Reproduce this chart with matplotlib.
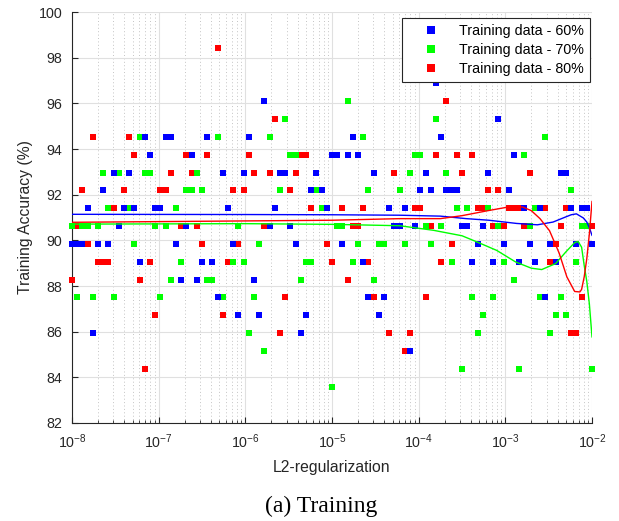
import numpy as np
import matplotlib.pyplot as plt
from matplotlib.ticker import NullFormatter, FixedLocator

plt.rcParams['font.family'] = 'Liberation Sans'
plt.rcParams['mathtext.fontset'] = 'custom'
plt.rcParams['mathtext.rm'] = 'Liberation Sans'
plt.rcParams['mathtext.it'] = 'Liberation Sans:italic'
plt.rcParams['mathtext.bf'] = 'Liberation Sans:bold'

# L2 sweep: 101 log-spaced values between 1e-8 and 1e-2
l2_values = np.logspace(-8, -2, 101)

acc_60 = [89.84, 89.84, 89.84, 91.41, 85.94, 89.84, 92.19, 89.84, 92.97, 90.63,
          91.41, 92.97, 91.41, 89.06, 94.53, 93.75, 91.41, 91.41, 94.53, 94.53,
          89.84, 88.28, 90.63, 93.75, 88.28, 89.06, 94.53, 89.06, 87.50, 92.97,
          91.41, 89.84, 86.72, 92.97, 94.53, 88.28, 86.72, 96.09, 90.63, 91.41,
          92.97, 92.97, 90.63, 89.84, 85.94, 86.72, 92.19, 92.97, 92.19, 91.41,
          93.75, 93.75, 89.84, 93.75, 94.53, 93.75, 89.06, 87.50, 92.97, 86.72,
          87.50, 91.41, 90.63, 90.63, 91.41, 85.16, 90.63, 92.19, 92.97, 92.19,
          96.88, 94.53, 92.19, 92.19, 92.19, 90.63, 90.63, 89.06, 89.84, 90.63,
          92.97, 89.06, 95.31, 89.84, 92.19, 93.75, 89.06, 91.41, 89.84, 89.06,
          91.41, 87.50, 89.84, 89.06, 92.97, 92.97, 91.41, 89.84, 91.41, 91.41,
          89.84]

acc_70 = [90.63, 87.50, 90.63, 90.63, 87.50, 90.63, 92.97, 91.41, 87.50, 92.97,
          91.41, 91.41, 89.84, 94.53, 92.97, 92.97, 90.63, 87.50, 90.63, 88.28,
          91.41, 89.06, 92.19, 92.19, 92.97, 92.19, 88.28, 88.28, 94.53, 87.50,
          91.41, 89.06, 90.63, 89.06, 85.94, 87.50, 89.84, 85.16, 94.53, 91.41,
          92.19, 95.31, 93.75, 93.75, 88.28, 89.06, 89.06, 92.19, 91.41, 91.41,
          83.59, 90.63, 90.63, 96.09, 89.06, 89.84, 94.53, 92.19, 88.28, 89.84,
          89.84, 91.41, 90.63, 92.19, 89.84, 92.97, 93.75, 93.75, 90.63, 89.84,
          95.31, 90.63, 92.97, 89.06, 91.41, 84.38, 91.41, 87.50, 85.94, 86.72,
          91.41, 87.50, 90.63, 89.06, 92.19, 88.28, 84.38, 93.75, 90.63, 91.41,
          87.50, 94.53, 85.94, 86.72, 87.50, 86.72, 92.19, 89.06, 90.63, 90.63,
          84.38]

acc_80 = [88.28, 90.63, 92.19, 89.84, 94.53, 89.06, 89.06, 89.06, 91.41, 90.63,
          92.19, 94.53, 93.75, 88.28, 84.38, 89.06, 86.72, 92.19, 92.19, 92.97,
          91.41, 90.63, 93.75, 92.97, 90.63, 89.84, 93.75, 89.06, 98.44, 86.72,
          89.06, 92.19, 89.84, 92.19, 93.75, 92.97, 89.84, 90.63, 92.97, 95.31,
          85.94, 87.50, 92.19, 92.97, 93.75, 93.75, 91.41, 92.19, 91.41, 89.84,
          89.06, 90.63, 91.41, 88.28, 90.63, 90.63, 91.41, 89.06, 87.50, 89.84,
          89.84, 85.94, 92.97, 90.63, 85.16, 85.94, 91.41, 91.41, 87.50, 90.63,
          93.75, 89.06, 96.09, 89.84, 93.75, 92.97, 91.41, 93.75, 91.41, 91.41,
          92.19, 90.63, 92.19, 90.63, 91.41, 91.41, 91.41, 90.63, 92.97, 91.41,
          91.41, 91.41, 89.06, 89.84, 90.63, 91.41, 85.94, 85.94, 87.50, 91.41,
          90.63]

# fitted trend curves (log10 of L2 vs accuracy)
fit_x_60 = [-8, -6, -5, -4.22, -3.75, -3.45, -3.19, -2.87, -2.63, -2.45,
            -2.3, -2.24, -2.18, -2.1, -2.06, -2.03, -2.0]
fit_y_60 = [91.14, 91.13, 91.12, 91.10, 91.06, 90.95, 90.88, 90.74, 90.68, 90.80,
            91.03, 91.12, 91.16, 90.98, 90.80, 90.55, 90.22]

fit_x_70 = [-8, -6, -5, -4.22, -3.83, -3.5, -3.34, -3.1, -2.88, -2.7,
            -2.58, -2.42, -2.3, -2.2, -2.16, -2.12, -2.09, -2.06, -2.03, -2.0]
fit_y_70 = [90.71, 90.73, 90.70, 90.64, 90.44, 90.20, 89.95, 89.56, 89.05, 88.78,
            88.72, 88.98, 89.50, 89.90, 89.95, 89.70, 88.90, 88.20, 87.20, 85.77]

fit_x_80 = [-8, -6, -5, -4.22, -3.75, -3.5, -3.2, -2.95, -2.8, -2.7,
            -2.6, -2.49, -2.38, -2.29, -2.2, -2.14, -2.12, -2.09, -2.06, -2.03, -2.0]
fit_y_80 = [90.79, 90.85, 90.88, 90.95, 90.95, 91.08, 91.30, 91.47, 91.46, 91.30,
            90.95, 90.42, 89.45, 88.40, 87.76, 87.74, 87.85, 88.40, 89.20, 90.30, 91.70]

labels = ['Training data - 60%', 'Training data - 70%', 'Training data - 80%']
colors = [(0, 0, 1), (0, 1, 0), (1, 0, 0)]

decades = [1e-8, 1e-7, 1e-6, 1e-5, 1e-4, 1e-3, 1e-2]

fig = plt.figure(figsize=(6.19, 5.21), dpi=100)
ax = fig.add_axes([72 / 619, 98 / 521, 520 / 619, 411 / 521])

series = [acc_60, acc_70, acc_80]
fits = [(fit_x_60, fit_y_60), (fit_x_70, fit_y_70), (fit_x_80, fit_y_80)]
for k, (acc, lab, col) in enumerate(zip(series, labels, colors)):
    ax.plot(l2_values, acc, 's', color=col, ms=3.9, mew=0, ls='none',
            label=lab, clip_on=False, zorder=3.3 - 0.1 * k)
for (fx, fy), col in zip(fits, colors):
    ax.plot(10 ** np.array(fx), fy, color=col, lw=1.0, zorder=4)

ax.set_xscale('log')
ax.set_xlim(1e-8, 1e-2)
ax.set_ylim(82, 100)
ax.set_yticks(np.arange(82, 101, 2))
ax.set_xticks(decades)
minor = [m * d for d in decades[:-1] for m in range(2, 10)]
ax.xaxis.set_minor_locator(FixedLocator(minor))
ax.xaxis.set_minor_formatter(NullFormatter())

ax.set_axisbelow(True)
ax.grid(True, which='major', color='#e0e0e0', lw=0.8)
ax.grid(True, which='minor', axis='x', color='#c4c4c4', ls=(0, (1, 2.5)), lw=0.7)

for s in ['top', 'right']:
    ax.spines[s].set_visible(False)
for s in ['left', 'bottom']:
    ax.spines[s].set_color('#262626')
    ax.spines[s].set_linewidth(0.8)

ax.tick_params(which='major', direction='in', length=4, width=0.8,
               color='#262626', labelcolor='#262626', labelsize=10.3)
ax.tick_params(axis='x', which='major', pad=7)
ax.tick_params(axis='y', which='major', pad=7)
ax.tick_params(which='minor', direction='in', length=2.5, width=0.6, color='#262626')
ax.tick_params(axis='y', which='minor', left=False)

ax.set_xlabel('L2-regularization', fontsize=11.3, color='#262626', labelpad=6)
ax.set_ylabel('Training Accuracy (%)', fontsize=11.3, color='#262626', labelpad=4)

leg = ax.legend(loc='upper right', bbox_to_anchor=(0.996, 0.985), borderaxespad=0,
                fontsize=10.3, fancybox=False, framealpha=1, markerscale=1.4,
                handlelength=3.2, handletextpad=0.4, borderpad=0.4, labelspacing=0.35)
leg.get_frame().set_edgecolor('#262626')
leg.get_frame().set_linewidth(0.8)

fig.text(0.519, 1 - 506 / 521, '(a) Training', family='Liberation Serif',
         fontsize=17, ha='center', va='center')

fig.savefig('out.png', dpi=100)
